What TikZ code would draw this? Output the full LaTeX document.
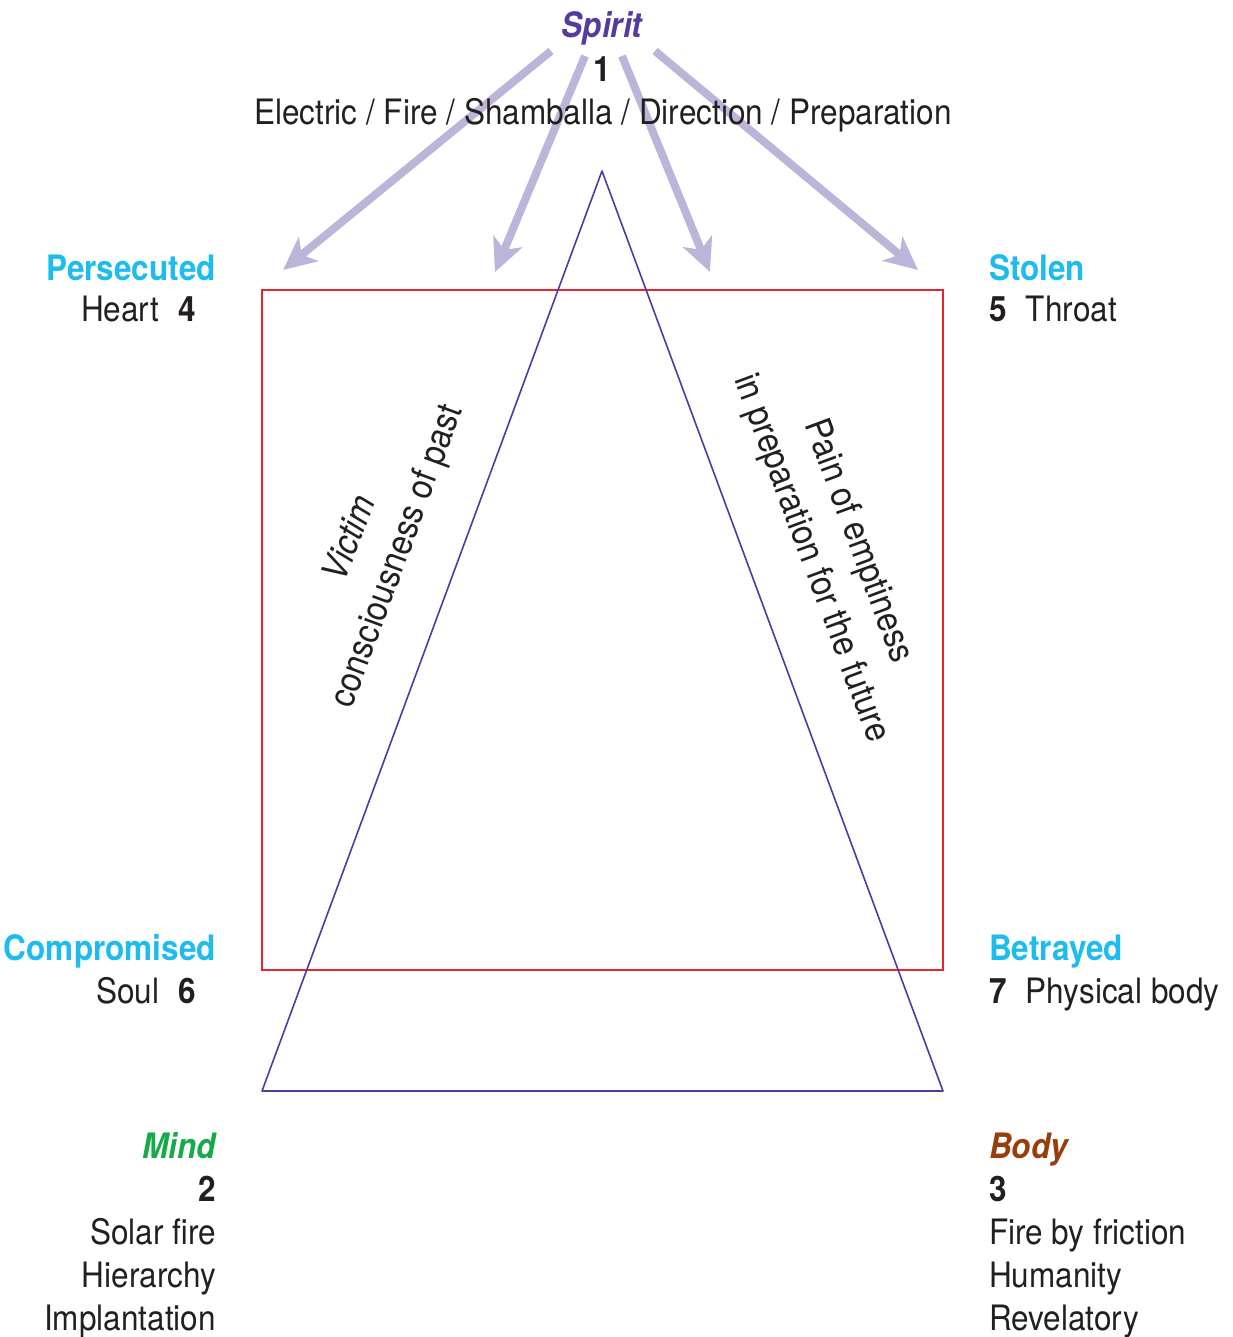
\documentclass[tikz,border=0pt]{standalone}
\usepackage{fontspec}
\setmainfont{TeX Gyre Heros}[FakeStretch=0.9]
\usetikzlibrary{arrows.meta,calc,positioning}
\definecolor{spiritviolet}{RGB}{88,57,158}
\definecolor{woundcyan}{RGB}{30,188,238}
\definecolor{mindgreen}{RGB}{22,170,74}
\definecolor{bodybrown}{RGB}{152,62,12}
\definecolor{rayslilac}{RGB}{189,180,217}
\definecolor{trianglepurple}{RGB}{76,60,160}
\definecolor{squarered}{RGB}{232,34,46}
\definecolor{inkblack}{RGB}{35,31,32}
\tikzset{
 txt/.style={font=\fontsize{35}{43}\selectfont,text=inkblack,inner sep=0pt},
 numtxt/.style={txt,font=\fontsize{35}{43}\selectfont\bfseries},
 wound/.style={txt,font=\fontsize{35}{43}\selectfont\bfseries,text=woundcyan},
 plane/.style={txt,font=\fontsize{35}{43}\selectfont\bfseries\itshape},
 ray/.style={rayslilac,line width=8pt,-{Stealth[length=33pt,width=31pt,inset=9pt]}},
 slant/.style={txt,font=\fontsize{36}{50}\selectfont,align=center}
}
\begin{document}
\begin{tikzpicture}[x=1pt,y=-1pt,line join=round]
 \useasboundingbox (0,0) rectangle (1232,1337);
 \coordinate (sq1) at (262,290);
 \coordinate (sq2) at (943,970);
 \coordinate (apex) at (602,171);
 \coordinate (mindc) at (262,1091);
 \coordinate (bodyc) at (943,1091);
 \draw[squarered,line width=1.8pt,line join=miter] (sq1) rectangle (sq2);
 \draw[trianglepurple,line width=1.6pt] (apex) -- (mindc) -- (bodyc) -- cycle;
 \coordinate (r1a) at (551,51);
 \coordinate (r1b) at (283,270);
 \coordinate (r2a) at (585,56);
 \coordinate (r2b) at (495,272);
 \coordinate (r3a) at (622,56);
 \coordinate (r3b) at (710,272);
 \coordinate (r4a) at (655,51);
 \coordinate (r4b) at (918,270);
 \draw[ray] (r1a) -- (r1b);
 \draw[ray] (r2a) -- (r2b);
 \draw[ray] (r3a) -- (r3b);
 \draw[ray] (r4a) -- (r4b);
 \node[plane,text=spiritviolet,anchor=base] (spirit) at (602,38) {Spirit};
 \node[numtxt,anchor=base] (one) at (602,82) {1};
 \node[txt,anchor=base] (electric) at (603,125)
  {Electric / Fire / Shamballa / Direction / Preparation};
 \node[wound,anchor=base east] (persecuted) at (216,280) {Persecuted};
 \node[txt,anchor=base east] (heart) at (196,321) {Heart\hspace{0.55em}\textbf{4}};
 \node[wound,anchor=base west] (stolen) at (989,280) {Stolen};
 \node[txt,anchor=base west] (throat) at (989,321) {\textbf{5}\hspace{0.55em}Throat};
 \node[wound,anchor=base east] (compromised) at (216,960) {Compromised};
 \node[txt,anchor=base east] (soul) at (196,1003) {Soul\hspace{0.55em}\textbf{6}};
 \node[wound,anchor=base west] (betrayed) at (989,960) {Betrayed};
 \node[txt,anchor=base west] (physical) at (989,1003) {\textbf{7}\hspace{0.55em}Physical body};
 \node[plane,text=mindgreen,anchor=base east] (mind) at (216,1158) {Mind};
 \node[numtxt,anchor=base east] (two) at (216,1201) {2};
 \node[txt,anchor=base east] (solar) at (216,1244) {Solar fire};
 \node[txt,anchor=base east] (hierarchy) at (216,1287) {Hierarchy};
 \node[txt,anchor=base east] (implant) at (216,1330) {Implantation};
 \node[plane,text=bodybrown,anchor=base west] (body) at (989,1158) {Body};
 \node[numtxt,anchor=base west] (three) at (989,1201) {3};
 \node[txt,anchor=base west] (friction) at (989,1244) {Fire by friction};
 \node[txt,anchor=base west] (humanity) at (989,1287) {Humanity};
 \node[txt,anchor=base west] (revelatory) at (989,1330) {Revelatory};
 \node[slant,rotate=69.7] (victim) at (375,548)
  {\textit{Victim}\\consciousness of past};
 \node[slant,rotate=-69.7] (pain) at (834,550)
  {Pain of emptiness\\in preparation for the future};
\end{tikzpicture}
\end{document}
